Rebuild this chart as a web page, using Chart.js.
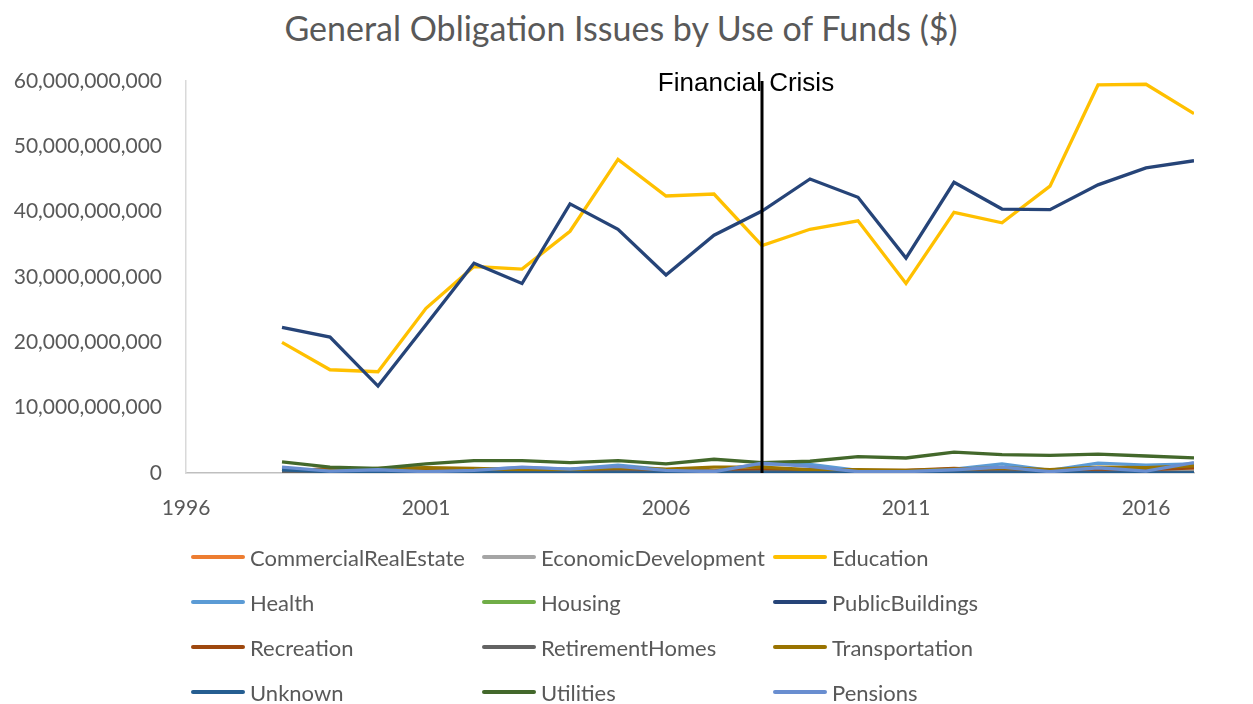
<!DOCTYPE html>
<html>
<head>
<meta charset="utf-8">
<script src="https://cdn.jsdelivr.net/npm/chart.js@4"></script>
<style>
  body { margin: 0; background: #fff; }
  #wrap { position: relative; width: 1253px; height: 704px; }
  #title { position: absolute; left: 0; top: 8px; width: 1242px; text-align: center; font-family: Lato, sans-serif; font-size: 34px; line-height: 40px; color: #595959; }
  #chartBox { position: absolute; left: 0; top: 0; width: 1253px; height: 530px; }
  #legend { position: absolute; left: 0; top: 0; width: 1253px; height: 704px; pointer-events: none; }
  .item { position: absolute; height: 30px; display: flex; align-items: center; font-family: Lato, sans-serif; font-size: 22px; color: #595959; white-space: nowrap; }
  .swatch { width: 54px; height: 4px; border-radius: 2px; margin-right: 5px; }
</style>
</head>
<body>
<div id="wrap">
  <div id="title">General Obligation Issues by Use of Funds ($)</div>
  <div id="chartBox"><canvas id="myChart"></canvas></div>
  <div id="legend"></div>
</div>
<script>
// years on the x axis
const years = [1998, 1999, 2000, 2001, 2002, 2003, 2004, 2005, 2006, 2007,
               2008, 2009, 2010, 2011, 2012, 2013, 2014, 2015, 2016, 2017];
const tickYears = [1996, 2001, 2006, 2011, 2016];

// series values ($)
const commercialRealEstate = [0.1e9, 0.3e9, 0.2e9, 0.2e9, 0.1e9, 0.1e9, 0.1e9, 0.2e9, 0.1e9, 0.1e9, 0.2e9, 0.1e9, 0.1e9, 0.2e9, 0.3e9, 0.2e9, 0.1e9, 0.2e9, 0.2e9, 0.3e9];
const economicDevelopment = [0.3e9, 0.2e9, 0.2e9, 0.2e9, 0.3e9, 0.3e9, 0.3e9, 0.4e9, 0.3e9, 0.3e9, 0.4e9, 0.3e9, 0.2e9, 0.2e9, 0.3e9, 0.3e9, 0.2e9, 0.3e9, 0.3e9, 0.3e9];
const education = [20.0e9, 15.8e9, 15.5e9, 25.2e9, 31.6e9, 31.2e9, 37.0e9, 48.0e9, 42.4e9, 42.7e9, 34.8e9, 37.3e9, 38.6e9, 29.0e9, 39.9e9, 38.3e9, 43.9e9, 59.4e9, 59.5e9, 55.0e9];
const health = [0.5e9, 0.3e9, 0.3e9, 0.2e9, 0.5e9, 0.8e9, 0.6e9, 1.2e9, 0.5e9, 0.3e9, 1.4e9, 1.3e9, 0.4e9, 0.3e9, 0.6e9, 1.4e9, 0.4e9, 1.5e9, 1.2e9, 1.4e9];
const housing = [0.1e9, 0.1e9, 0.05e9, 0.05e9, 0.05e9, 0.1e9, 0.05e9, 0.05e9, 0.05e9, 0.05e9, 0.1e9, 0.05e9, 0.05e9, 0.05e9, 0.05e9, 0.05e9, 0.05e9, 0.05e9, 0.05e9, 0.05e9];
const publicBuildings = [22.3e9, 20.8e9, 13.3e9, 22.7e9, 32.1e9, 29.0e9, 41.2e9, 37.3e9, 30.3e9, 36.4e9, 40.1e9, 45.0e9, 42.2e9, 32.9e9, 44.5e9, 40.4e9, 40.3e9, 44.1e9, 46.7e9, 47.8e9];
const recreation = [0.2e9, 0.7e9, 0.3e9, 0.4e9, 0.3e9, 0.3e9, 0.3e9, 0.4e9, 0.3e9, 0.3e9, 0.5e9, 0.3e9, 0.4e9, 0.4e9, 0.7e9, 0.4e9, 0.4e9, 0.5e9, 0.5e9, 0.8e9];
const retirementHomes = [0.1e9, 0.1e9, 0.1e9, 0.1e9, 0.2e9, 0.2e9, 0.1e9, 0.2e9, 0.1e9, 0.1e9, 0.2e9, 0.1e9, 0.1e9, 0.1e9, 0.1e9, 0.2e9, 0.1e9, 0.1e9, 0.1e9, 0.1e9];
const transportation = [0.6e9, 0.4e9, 0.7e9, 0.8e9, 0.7e9, 0.5e9, 0.5e9, 0.8e9, 0.6e9, 0.9e9, 0.9e9, 0.5e9, 0.5e9, 0.4e9, 0.6e9, 0.8e9, 0.5e9, 0.9e9, 0.8e9, 1.1e9];
const unknown = [0.5e9, 0.2e9, 0.2e9, 0.1e9, 0.05e9, 0, 0, 0, 0, 0, 0, 0, 0, 0, 0, 0, 0, 0, 0, 0];
const utilities = [1.7e9, 0.9e9, 0.7e9, 1.4e9, 1.9e9, 1.9e9, 1.6e9, 1.9e9, 1.4e9, 2.1e9, 1.6e9, 1.8e9, 2.5e9, 2.3e9, 3.2e9, 2.8e9, 2.7e9, 2.9e9, 2.6e9, 2.3e9];
const pensions = [0.9e9, 0.3e9, 0.5e9, 0.2e9, 0.4e9, 0.9e9, 0.6e9, 1.0e9, 0.4e9, 0.2e9, 1.5e9, 1.0e9, 0.2e9, 0.2e9, 0.5e9, 0.9e9, 0.2e9, 0.8e9, 0.3e9, 1.6e9];

// financial crisis marker
const crisisYear = [2008, 2008];
const crisisValues = [0, 60e9];
const crisisLabel = 'Financial Crisis';

const seriesNames = ['CommercialRealEstate', 'EconomicDevelopment', 'Education', 'Health', 'Housing', 'PublicBuildings',
                     'Recreation', 'RetirementHomes', 'Transportation', 'Unknown', 'Utilities', 'Pensions'];
const seriesData = [commercialRealEstate, economicDevelopment, education, health, housing, publicBuildings,
                    recreation, retirementHomes, transportation, unknown, utilities, pensions];
const seriesColors = ['#ED7D31', '#A5A5A5', '#FFC000', '#5B9BD5', '#70AD47', '#264478',
                      '#9E480E', '#636363', '#997300', '#255E91', '#43682B', '#698ED0'];

const greyText = '#595959';

let datasets = seriesNames.map((name, i) => ({
  label: name,
  data: years.map((yr, j) => ({ x: yr, y: seriesData[i][j] })),
  borderColor: seriesColors[i],
  backgroundColor: seriesColors[i],
  borderWidth: 3.3,
  pointRadius: 0,
  tension: 0,
  // later series on top, like the spreadsheet
  order: seriesNames.length - i
}));

datasets.push({
  label: crisisLabel,
  data: crisisYear.map((yr, j) => ({ x: yr, y: crisisValues[j] })),
  borderColor: '#000000',
  borderWidth: 3,
  pointRadius: 0,
  order: 0,
  isMarker: true
});

// writes the marker label at the top of the crisis line (nudged left like the original)
const crisisLabelPlugin = {
  id: 'crisisLabel',
  afterDatasetsDraw(chart) {
    const { ctx, scales } = chart;
    const x = scales.x.getPixelForValue(crisisYear[1]);
    const y = scales.y.getPixelForValue(crisisValues[1]);
    ctx.save();
    ctx.font = '26px "Liberation Sans", Arial, sans-serif';
    ctx.fillStyle = '#000';
    ctx.textAlign = 'center';
    ctx.textBaseline = 'alphabetic';
    ctx.fillText(crisisLabel, x - 16, y + 10);
    ctx.restore();
  }
};

const myChart = document.getElementById('myChart');

const chart = new Chart(myChart, {
  type: 'line',
  data: { datasets: datasets },
  options: {
    responsive: true,
    maintainAspectRatio: false,
    animation: false,
    layout: { padding: { left: 0, right: 59, top: 81, bottom: 0 } },
    plugins: {
      legend: { display: false },
      tooltip: { enabled: false }
    },
    scales: {
      x: {
        type: 'linear',
        min: 1996,
        max: 2017,
        afterBuildTicks: (axis) => { axis.ticks = tickYears.map(v => ({ value: v })); },
        afterFit: (axis) => { axis.height = 57; },
        grid: { display: false, drawTicks: false },
        border: { display: true, color: '#BFBFBF', width: 1.5 },
        ticks: {
          color: greyText,
          font: { family: 'Lato', size: 21 },
          padding: 23,
          callback: (v) => String(v)
        }
      },
      y: {
        min: 0,
        max: 60e9,
        afterFit: (axis) => { axis.width = 186; },
        grid: { display: false, drawTicks: false },
        border: { display: true, color: '#D9D9D9', width: 1.5 },
        ticks: {
          stepSize: 10e9,
          color: greyText,
          font: { family: 'Lato', size: 21 },
          padding: 24,
          callback: (v) => v.toLocaleString('en-US')
        }
      }
    }
  },
  plugins: [crisisLabelPlugin]
});

// legend laid out in three columns like the original
const legendBox = document.getElementById('legend');
const colX = [191, 482, 773];
const rowY = [557, 602, 647, 692];
chart.data.datasets.filter(d => !d.isMarker).forEach((d, i) => {
  const item = document.createElement('div');
  item.className = 'item';
  item.style.left = colX[i % 3] + 'px';
  item.style.top = (rowY[Math.floor(i / 3)] - 15) + 'px';
  item.innerHTML = '<span class="swatch" style="background:' + d.borderColor + '"></span>' + d.label;
  legendBox.appendChild(item);
});
</script>
</body>
</html>
